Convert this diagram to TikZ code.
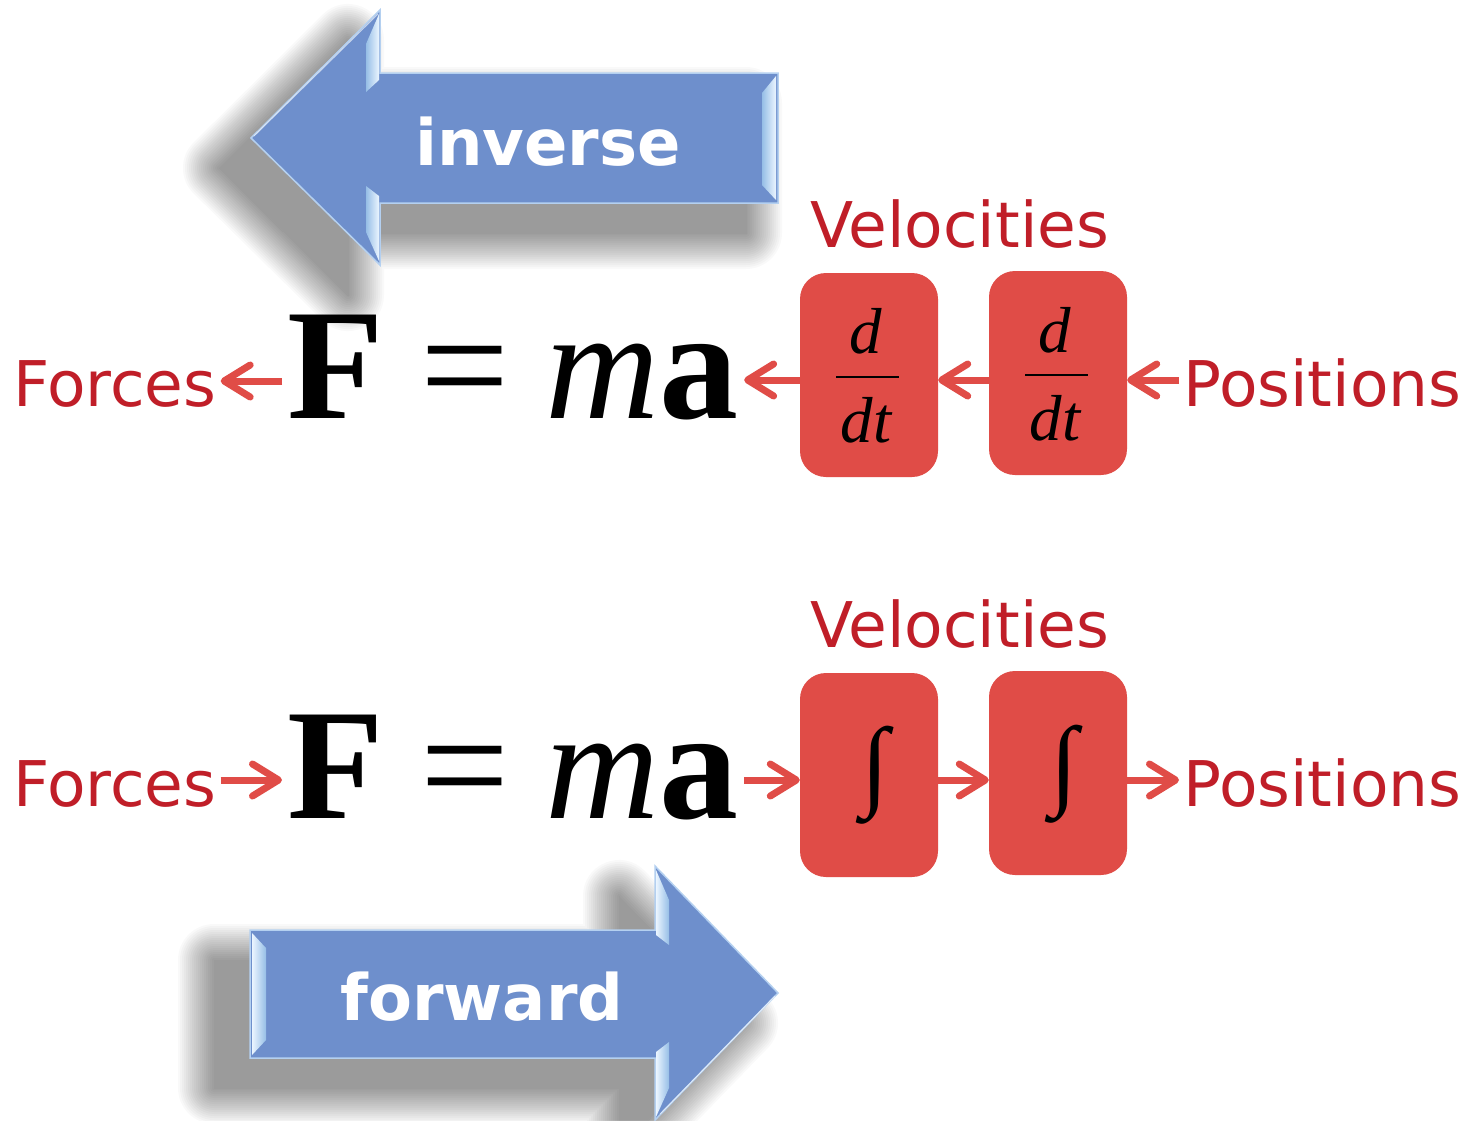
\documentclass[tikz,border=0pt]{standalone}
\usepackage{fontspec}
\setmainfont{Liberation Serif}
\newfontfamily\labfont{DejaVu Sans}
\usetikzlibrary{arrows.meta,calc}
\definecolor{arrowblue}{RGB}{110,143,204}
\definecolor{edgeblue}{RGB}{180,208,240}
\definecolor{bevlight}{RGB}{235,245,255}
\definecolor{bevmid}{RGB}{150,190,230}
\definecolor{labred}{RGB}{192,30,40}
\definecolor{boxred}{RGB}{224,76,71}
\begin{document}
\begin{tikzpicture}[x=1pt,y=-1pt,
  lab/.style={font=\labfont\fontsize{63}{70}\selectfont, text=labred, inner ysep=0pt, inner xsep=4pt},
  bigword/.style={font=\labfont\bfseries\fontsize{64}{70}\selectfont, text=white, inner sep=0pt},
  eq/.style={font=\fontsize{158}{170}\selectfont, inner ysep=0pt, inner xsep=5pt},
  frac/.style={font=\itshape\fontsize{65}{70}\selectfont, inner sep=0pt},
  intsym/.style={font=\fontsize{100}{110}\selectfont, inner sep=0pt},
  redbox/.style={fill=boxred, rounded corners=26pt, minimum width=138pt, minimum height=204pt, inner sep=0pt},
  conn/.style={draw=boxred, line width=7pt, -{Straight Barb[length=26pt,width=32pt,round]}},
  blueshape/.style={fill=arrowblue, draw=edgeblue, line width=1.5pt, line join=miter},
  shadowlayer/.style={black, line join=round}
]
\useasboundingbox (0,0) rectangle (1474,1120);
\fill[white] (0,0) rectangle (1474,1120);

% ---------- inverse arrow ----------
\foreach \w in {72,68,...,0}{
  \begin{scope}[transparency group, opacity=0.024]
  \filldraw[shadowlayer, line width=\w pt, shift={(-32,30)}]
    (251,138) -- (380,10) -- (380,73) -- (778,73) -- (778,203) -- (380,203) -- (380,265) -- cycle;
  \end{scope}
}
\path[blueshape] (251,138) -- (380,10) -- (380,73) -- (778,73) -- (778,203) -- (380,203) -- (380,265) -- cycle;
\shade[left color=bevmid, right color=bevlight] (366,44) -- (379,14) -- (379,80) -- (366,92) -- cycle;
\shade[left color=bevmid, right color=bevlight] (366,186) -- (379,196) -- (379,261) -- (366,232) -- cycle;
\shade[left color=bevmid, right color=bevlight] (762,93) -- (776,76) -- (776,200) -- (762,185) -- cycle;
\draw[white, line width=1pt, opacity=0.6] (254,136) -- (378,14);
\node[bigword, anchor=base] (inv) at (548,165) {inverse};

% ---------- forward arrow ----------
\foreach \w in {72,68,...,0}{
  \begin{scope}[transparency group, opacity=0.024]
  \filldraw[shadowlayer, line width=\w pt, shift={(-36,30)}]
    (250,930) -- (655,930) -- (655,866) -- (778,993) -- (655,1120) -- (655,1058) -- (250,1058) -- cycle;
  \end{scope}
}
\path[blueshape] (250,930) -- (655,930) -- (655,866) -- (778,993) -- (655,1120) -- (655,1058) -- (250,1058) -- cycle;
\shade[left color=bevlight, right color=bevmid] (252,933) -- (266,948) -- (266,1040) -- (252,1055) -- cycle;
\shade[left color=bevlight, right color=bevmid] (656,870) -- (669,900) -- (669,945) -- (656,935) -- cycle;
\shade[left color=bevlight, right color=bevmid] (656,1052) -- (669,1042) -- (669,1088) -- (656,1117) -- cycle;
\draw[white, line width=1pt, opacity=0.6] (775,996) -- (660,1114);
\node[bigword, anchor=base] (fwd) at (482,1020) {forward};

% ---------- top row (inverse) ----------
\node[lab, anchor=base west] (forT) at (9,406) {Forces};
\node[eq, anchor=base west] (eqT) at (282,418) {{\bfseries F}\hspace{37pt}=\hspace{36pt}{\itshape m}{\bfseries a}};
\node[redbox] (bT1) at (869,375) {};
\node[redbox] (bT2) at (1058,373) {};
\node[lab, anchor=base west] (posT) at (1179,406) {Positions};
\node[lab, anchor=base west] (velT) at (806,247) {Velocities};

\node[frac, anchor=base] (dT1) at ($(bT1.center)+(-3,-22)$) {d};
\node[frac, anchor=base] (dtT1) at ($(bT1.center)+(-3,67)$) {dt};
\draw[line width=2.8pt] ($(bT1.center)+(-33,2)$) -- ($(bT1.center)+(30,2)$);
\node[frac, anchor=base] (dT2) at ($(bT2.center)+(-3,-21)$) {d};
\node[frac, anchor=base] (dtT2) at ($(bT2.center)+(-3,67)$) {dt};
\draw[line width=2.8pt] ($(bT2.center)+(-33,2)$) -- ($(bT2.center)+(30,2)$);

\draw[conn] (posT.west |- 0,380) -- (bT2.east |- 0,380);
\draw[conn] (bT2.west |- 0,380) -- (bT1.east |- 0,380);
\draw[conn] (bT1.west |- 0,380) -- (eqT.east |- 0,380);
\draw[conn] (eqT.west |- 0,381) -- (forT.east |- 0,381);

% ---------- bottom row (forward) ----------
\node[lab, anchor=base west] (forB) at (9,806) {Forces};
\node[eq, anchor=base west] (eqB) at (282,818) {{\bfseries F}\hspace{37pt}=\hspace{36pt}{\itshape m}{\bfseries a}};
\node[redbox] (bB1) at (869,775) {};
\node[redbox] (bB2) at (1058,773) {};
\node[lab, anchor=base west] (posB) at (1179,806) {Positions};
\node[lab, anchor=base west] (velB) at (806,647) {Velocities};

\node[intsym] (iB1) at ($(bB1.center)+(6,0)$) {∫};
\node[intsym] (iB2) at ($(bB2.center)+(6,1)$) {∫};

\draw[conn] (forB.east |- 0,780) -- (eqB.west |- 0,780);
\draw[conn] (eqB.east |- 0,780) -- (bB1.west |- 0,780);
\draw[conn] (bB1.east |- 0,780) -- (bB2.west |- 0,780);
\draw[conn] (bB2.east |- 0,780) -- (posB.west |- 0,780);
\end{tikzpicture}
\end{document}
